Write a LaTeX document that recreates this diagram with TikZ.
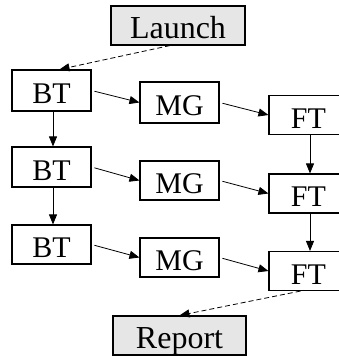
\documentclass[tikz,border=0pt]{standalone}
\usepackage{fontspec}
\setmainfont{Liberation Serif}
\usetikzlibrary{arrows.meta}
\definecolor{boxfill}{HTML}{E6E6E6}
\tikzset{
  task/.style={draw=black, line width=1.1pt, fill=white, inner sep=0pt,
    minimum width=79pt, text height=26pt, text depth=0pt,
    font=\fontsize{30}{30}\selectfont},
  endpoint/.style={task, fill=boxfill, minimum width=134pt, minimum height=39pt,
    font=\fontsize{32}{32}\selectfont},
  flow/.style={draw=black, line width=0.8pt, -{Triangle[length=10pt,width=8pt]}, shorten <=3pt},
  ctrl/.style={flow, dash pattern=on 5pt off 3pt, shorten <=0pt}
}
\begin{document}
\begin{tikzpicture}[x=1pt,y=-1pt]
\useasboundingbox (0,0) rectangle (339,356);
\clip (0,0) rectangle (339,356);
\node[endpoint] (launch) at (178,25.5) {Launch};
\node[task, minimum height=41pt] (bt1) at (51.5,90.5) {BT};
\node[task, minimum height=41pt] (mg1) at (179.5,102.5) {MG};
\node[task, minimum height=39pt] (ft1) at (308.5,115) {FT};
\node[task, minimum height=40pt] (bt2) at (51.5,167) {BT};
\node[task, minimum height=39pt] (mg2) at (179.5,180.5) {MG};
\node[task, minimum height=39pt] (ft2) at (308.5,193.5) {FT};
\node[task, minimum height=39pt] (bt3) at (51.5,244.5) {BT};
\node[task, minimum height=39pt] (mg3) at (179.5,257.5) {MG};
\node[task, minimum height=39pt] (ft3) at (308.5,271) {FT};
\node[endpoint, minimum width=133pt] (report) at (179.5,335.5) {Report};
\draw[ctrl] ([xshift=-8pt]launch.south) -- ([xshift=8pt]bt1.north);
\draw[flow] (bt1.east) -- (mg1.west);
\draw[flow] (mg1.east) -- (ft1.west);
\draw[flow] (bt2.east) -- (mg2.west);
\draw[flow] (mg2.east) -- (ft2.west);
\draw[flow] (bt3.east) -- (mg3.west);
\draw[flow] (mg3.east) -- (ft3.west);
\draw[flow, shorten <=0pt] ([xshift=1.5pt]bt1.south) -- ([xshift=1.5pt]bt2.north);
\draw[flow, shorten <=0pt] ([xshift=1.5pt]bt2.south) -- ([xshift=1.5pt]bt3.north);
\draw[flow, shorten <=0pt] ([xshift=1.5pt]ft1.south) -- ([xshift=1.5pt]ft2.north);
\draw[flow, shorten <=0pt] ([xshift=1.5pt]ft2.south) -- ([xshift=1.5pt]ft3.north);
\draw[ctrl] ([xshift=-8pt]ft3.south) -- (report.north);
\end{tikzpicture}
\end{document}
